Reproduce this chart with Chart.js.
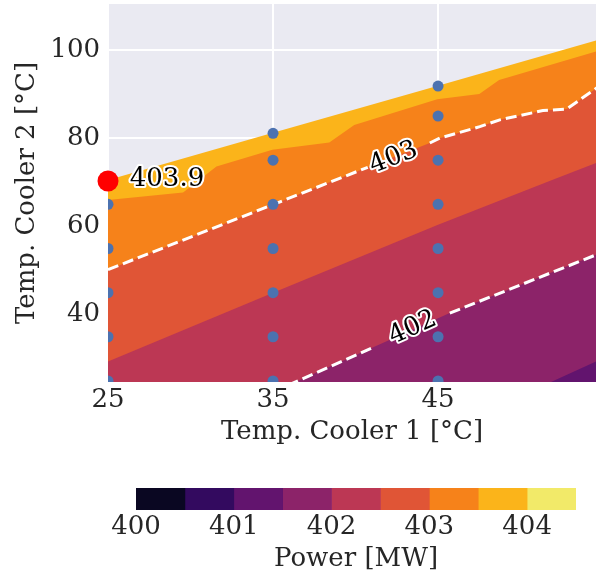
<!DOCTYPE html>
<html><head><meta charset="utf-8">
<script src="https://cdn.jsdelivr.net/npm/chart.js@4.4.0/dist/chart.umd.min.js"></script>
<style>
html,body{margin:0;padding:0;background:#fff;overflow:hidden;width:596px;height:577px;}
#main{position:absolute;left:0;top:0;}
#cbar{position:absolute;left:0;top:460px;}
</style></head><body>
<canvas id="main" width="596" height="460"></canvas>
<canvas id="cbar" width="596" height="117"></canvas>
<script>
// ---------------- data ----------------
const xTicks = [25, 35, 45];
const yTicks = [40, 60, 80, 100];
const levels = [400, 400.5, 401, 401.5, 402, 402.5, 403, 403.5, 404, 404.5];
const cbarTicks = [400, 401, 402, 403, 404];
const bandColors = ['#0a0722', '#330a5f', '#62146e', '#8c2369', '#bc3754', '#e05536', '#f6821a', '#fbb41a', '#f2ea69'];

// upper edge of the explored region (filled with the 403.5-404 band below it)
const edgeX = [25, 35, 45, 55];
const edgeY = [70.5, 81.2, 91.9, 102.6];
// contour 403.5
const c4035X = [25, 29.55, 31.57, 34.96, 38.41, 39.92, 44.95, 47.5, 48.7, 55];
const c4035Y = [66.0, 67.7, 73.6, 77.35, 79.0, 83.0, 88.8, 90.0, 93.2, 100.1];
// contour 403
const c403X = [25, 34.96, 40.74, 44.5, 45.1, 47.53, 48.74, 51.35, 52.8, 55];
const c403Y = [50.2, 64.9, 73.4, 78.9, 80.0, 82.6, 84.15, 86.25, 86.6, 92.4];
// contour 402.5
const c4025X = [25, 35, 45, 51.95, 55];
const c4025Y = [29.4, 45.0, 60.4, 70.6, 75.0];
// contour 402
const c402X = [35.9, 41.07, 45.71, 55];
const c402Y = [24.0, 32.6, 40.36, 54.2];
// contour 401.5
const c4015X = [51.58, 55];
const c4015Y = [24.3, 30.1];

// sampled points
const sampleX = [25,25,25,25,25, 35,35,35,35,35,35,35, 45,45,45,45,45,45,45,45];
const sampleY = [25,35,45,55,65, 25,35,45,55,65,75,81.1, 25,35,45,55,65,75,85,91.8];
// best point
const bestX = [25];
const bestY = [70.3];
const bestText = '403.9';
const bestTextX = 26.32;
const bestTextY = 70.8;

// inline contour labels
const labelText = ['403', '402'];
const labelX = [42.31, 43.47];
const labelY = [75.5, 37.0];
const gap403 = [40.74, 44.5];
const gap402 = [41.07, 45.71];

// ---------------- helpers ----------------
const FONT = {family: '"DejaVu Serif", serif', size: 26, lineHeight: 1.2};
const TXT = '#262626';
const pts = (xs, ys) => xs.map((x, i) => ({x: x, y: ys[i]}));
function withGap(xs, ys, g) {
  const out = [];
  xs.forEach((x, i) => {
    out.push({x: x, y: ys[i]});
    if (x === g[0]) out.push({x: (g[0] + g[1]) / 2, y: null});
  });
  return out;
}
const fillDs = (xs, ys, color, order) => ({
  type: 'line', data: pts(xs, ys), backgroundColor: color,
  borderColor: 'rgba(0,0,0,0)', borderWidth: 0, pointRadius: 0,
  fill: 'start', tension: 0, order: order
});
const dashDs = (xs, ys, g) => ({
  type: 'line', data: withGap(xs, ys, g), borderColor: '#ffffff',
  borderWidth: 3, borderDash: [11, 5], pointRadius: 0, fill: false,
  tension: 0, spanGaps: false, order: 3
});

const bgPlugin = {
  id: 'bg',
  beforeDraw(chart) {
    const a = chart.chartArea, c = chart.ctx;
    c.save(); c.fillStyle = '#eaeaf2';
    c.fillRect(a.left, a.top, a.right - a.left, a.bottom - a.top);
    c.restore();
  }
};

function outlinedText(c, text, x, y, angle, align) {
  c.save();
  c.translate(x, y);
  c.rotate(angle);
  c.font = '26px "DejaVu Serif", serif';
  c.textAlign = align;
  c.textBaseline = 'middle';
  c.lineJoin = 'round';
  c.lineWidth = 4;
  c.strokeStyle = '#ffffff';
  c.strokeText(text, 0, 0);
  c.fillStyle = '#000000';
  c.fillText(text, 0, 0);
  c.restore();
}

const labelPlugin = {
  id: 'clabels',
  afterDatasetsDraw(chart) {
    const xs = chart.scales.x, ys = chart.scales.y, c = chart.ctx;
    const gaps = [[gap403, c403X, c403Y], [gap402, c402X, c402Y]];
    labelText.forEach((t, i) => {
      const [g, cx, cy] = gaps[i];
      const i0 = cx.indexOf(g[0]), i1 = cx.indexOf(g[1]);
      const x0 = xs.getPixelForValue(cx[i0]), y0 = ys.getPixelForValue(cy[i0]);
      const x1 = xs.getPixelForValue(cx[i1]), y1 = ys.getPixelForValue(cy[i1]);
      const ang = Math.atan2(y1 - y0, x1 - x0);
      outlinedText(c, t, xs.getPixelForValue(labelX[i]), ys.getPixelForValue(labelY[i]), ang, 'center');
    });
    outlinedText(c, bestText, xs.getPixelForValue(bestTextX), ys.getPixelForValue(bestTextY), 0, 'left');
  }
};

// ---------------- main contour chart ----------------
new Chart(document.getElementById('main'), {
  type: 'line',
  data: {
    datasets: [
      fillDs(edgeX, edgeY, bandColors[7], 10),
      fillDs(c4035X, c4035Y, bandColors[6], 9),
      fillDs(c403X, c403Y, bandColors[5], 8),
      fillDs(c4025X, c4025Y, bandColors[4], 7),
      fillDs(c402X, c402Y, bandColors[3], 6),
      fillDs(c4015X, c4015Y, bandColors[2], 5),
      dashDs(c403X, c403Y, gap403),
      dashDs(c402X, c402Y, gap402),
      {type: 'scatter', data: pts(sampleX, sampleY), backgroundColor: '#4c72b0',
       borderWidth: 0, pointRadius: 5.5, order: 2},
      {type: 'scatter', data: pts(bestX, bestY), backgroundColor: '#ff0000',
       borderWidth: 0, pointRadius: 10.5, order: 1, clip: false}
    ]
  },
  options: {
    responsive: false, animation: false, devicePixelRatio: 1,
    layout: {autoPadding: false, padding: {top: 4, left: 0, right: 0, bottom: 0}},
    plugins: {legend: {display: false}, tooltip: {enabled: false}},
    scales: {
      x: {
        type: 'linear', min: 25, max: 54.57,
        afterBuildTicks: s => { s.ticks = xTicks.map(v => ({value: v})); },
        afterFit: s => { s.height = 78; s.paddingLeft = 0; s.paddingRight = 0; },
        grid: {color: '#ffffff', lineWidth: 2, drawTicks: false},
        border: {display: false},
        ticks: {font: FONT, color: TXT, padding: 2.4, maxRotation: 0},
        title: {display: true, text: 'Temp. Cooler 1 [°C]', font: FONT, color: TXT,
                padding: {top: 0, bottom: 12.4}}
      },
      y: {
        type: 'linear', min: 24.75, max: 110.4,
        afterBuildTicks: s => { s.ticks = yTicks.map(v => ({value: v})); },
        afterFit: s => { s.width = 108; s.paddingTop = 0; s.paddingBottom = 0; },
        grid: {color: '#ffffff', lineWidth: 2, drawTicks: false},
        border: {display: false},
        ticks: {font: FONT, color: TXT, padding: 8},
        title: {display: true, text: 'Temp. Cooler 2 [°C]', font: FONT, color: TXT,
                padding: {top: 11.9, bottom: 0}}
      }
    }
  },
  plugins: [bgPlugin, labelPlugin]
});

// ---------------- colorbar ----------------
new Chart(document.getElementById('cbar'), {
  type: 'bar',
  data: {
    labels: [''],
    datasets: bandColors.map((c, i) => ({
      data: [[levels[i], levels[i + 1]]], backgroundColor: c, borderWidth: 0,
      grouped: false, barPercentage: 1, categoryPercentage: 1
    }))
  },
  options: {
    indexAxis: 'y', responsive: false, animation: false, devicePixelRatio: 1,
    layout: {autoPadding: false, padding: {left: 136, right: 20, top: 28, bottom: 0}},
    plugins: {legend: {display: false}, tooltip: {enabled: false}},
    scales: {
      x: {
        type: 'linear', min: levels[0], max: levels[levels.length - 1],
        afterBuildTicks: s => { s.ticks = cbarTicks.map(v => ({value: v})); },
        afterFit: s => { s.height = 67; s.paddingLeft = 0; s.paddingRight = 0; },
        grid: {display: false, drawTicks: false},
        border: {display: false},
        ticks: {font: FONT, color: TXT, padding: 1.4, maxRotation: 0},
        title: {display: true, text: 'Power [MW]', font: FONT, color: TXT,
                padding: {top: 0, bottom: 2.4}}
      },
      y: {display: false}
    }
  }
});
</script>
</body></html>
